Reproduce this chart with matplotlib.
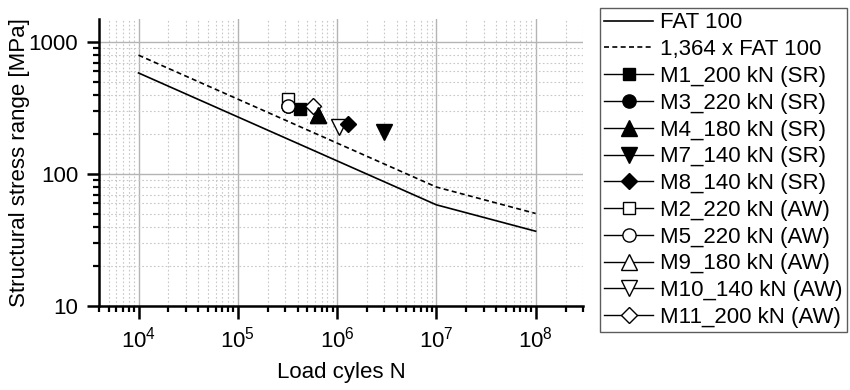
import matplotlib
matplotlib.use("Agg")
import matplotlib.pyplot as plt
from matplotlib.ticker import LogLocator, NullFormatter, FixedLocator, FixedFormatter

plt.rcParams['font.family'] = ['Liberation Sans', 'DejaVu Sans']
plt.rcParams['mathtext.fontset'] = 'custom'
plt.rcParams['mathtext.rm'] = 'Liberation Sans'
plt.rcParams['mathtext.it'] = 'Liberation Sans'

# Design S-N curves (N, stress range in MPa)
curve_n = [1e4, 1e7, 1e8]
fat100 = [584.8, 58.5, 36.9]
fat100_scaled = [797.7, 79.8, 50.3]

# Test results: (label, cycles, stress range)
labels = ["M1_200 kN (SR)", "M3_220 kN (SR)", "M4_180 kN (SR)", "M7_140 kN (SR)",
          "M8_140 kN (SR)", "M2_220 kN (AW)", "M5_220 kN (AW)", "M9_180 kN (AW)",
          "M10_140 kN (AW)", "M11_200 kN (AW)"]
cycles = [4.2e5, 3.2e5, 6.4e5, 2.95e6, 1.3e6, 3.2e5, 3.2e5, 6.4e5, 1.04e6, 5.7e5]
stress = [309, 327, 283, 209, 238, 370, 327, 283, 228, 331]

markers = ['s', 'o', '^', 'v', 'D', 's', 'o', '^', 'v', 'D']
filled = [True, True, True, True, True, False, False, False, False, False]
sizes = [8.5, 9.5, 11.5, 11.5, 8.5, 8.5, 9.5, 11.5, 11.5, 8.5]
zorders = [4, 2, 6, 4, 5, 3, 5, 2, 3, 5]

FS = 16

fig = plt.figure(figsize=(8.5, 3.9), dpi=100)
ax = fig.add_axes([99 / 850, 1 - 306 / 390, (583 - 99) / 850, (306 - 19) / 390])

ax.plot(curve_n, fat100, color='black', lw=1.2, label='FAT 100', zorder=3)
ax.plot(curve_n, fat100_scaled, color='black', lw=1.2, ls=(0, (3, 2)),
        label='1,364 x FAT 100', zorder=3)

for lab, n, s, m, f, ms, z in zip(labels, cycles, stress, markers, filled, sizes, zorders):
    ax.plot([n], [s], ls='-', lw=1.0, color='black', marker=m, markersize=ms,
            markerfacecolor='black' if f else 'white', markeredgecolor='black',
            markeredgewidth=1.0, label=lab, zorder=z)

ax.set_xscale('log')
ax.set_yscale('log')
ax.set_xlim(4000, 3e8)
ax.set_ylim(10, 1500)

ax.xaxis.set_major_locator(FixedLocator([1e4, 1e5, 1e6, 1e7, 1e8]))
ax.xaxis.set_major_formatter(FixedFormatter([r'$\mathregular{10^{4}}$', r'$\mathregular{10^{5}}$',
                                             r'$\mathregular{10^{6}}$', r'$\mathregular{10^{7}}$',
                                             r'$\mathregular{10^{8}}$']))
ax.xaxis.set_minor_locator(LogLocator(base=10, subs=range(2, 10), numticks=20))
ax.xaxis.set_minor_formatter(NullFormatter())
ax.yaxis.set_major_locator(FixedLocator([10, 100, 1000]))
ax.yaxis.set_major_formatter(FixedFormatter(['10', '100', '1000']))
ax.yaxis.set_minor_locator(LogLocator(base=10, subs=range(2, 10), numticks=20))
ax.yaxis.set_minor_formatter(NullFormatter())

ax.grid(True, which='major', color='#b4b4b4', lw=1.0, ls='-', zorder=0)
ax.grid(True, which='minor', color='#c8c8c8', lw=0.8, ls=(0, (1.5, 2)), zorder=0)
ax.set_axisbelow(True)

for side in ('top', 'right'):
    ax.spines[side].set_visible(False)
for side in ('left', 'bottom'):
    ax.spines[side].set_linewidth(1.8)

ax.tick_params(axis='both', which='major', direction='out', length=9, width=1.8,
               labelsize=FS, pad=6)
ax.tick_params(axis='both', which='minor', direction='out', length=4.5, width=1.6)

ax.set_ylabel('Structural stress range [MPa]', fontsize=FS)
ax.yaxis.set_label_coords((30 - 99) / (583 - 99), 0.5)
ax.set_xlabel('Load cyles N', fontsize=FS, labelpad=7)

leg = fig.legend(loc='upper left', bbox_to_anchor=(600 / 850, 1 - 8 / 390),
                 fontsize=FS, frameon=True, fancybox=False, borderaxespad=0,
                 handlelength=2.2, handletextpad=0.3, borderpad=0.2,
                 labelspacing=0.26)
leg.get_frame().set_edgecolor('#333333')
leg.get_frame().set_linewidth(1.0)

fig.savefig('out.png', dpi=100)
